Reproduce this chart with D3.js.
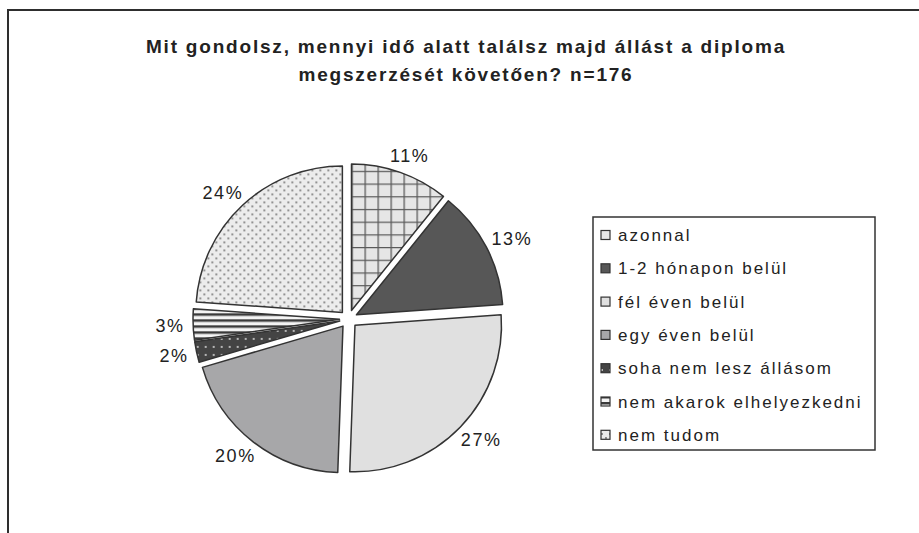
<!DOCTYPE html>
<html>
<head>
<meta charset="utf-8">
<script src="https://cdn.jsdelivr.net/npm/d3@7"></script>
<style>
html,body{margin:0;padding:0;background:#fff;}
svg{display:block;}
text{font-family:"Liberation Sans",Arial,sans-serif;fill:#222;}
</style>
</head>
<body>
<svg id="chart" width="919" height="533"></svg>
<script>
const titleLines = ["Mit gondolsz, mennyi idő alatt találsz majd állást a diploma", "megszerzését követően? n=176"];
const categories = ["azonnal", "1-2 hónapon belül", "fél éven belül", "egy éven belül", "soha nem lesz állásom", "nem akarok elhelyezkedni", "nem tudom"];
const counts = [19, 23, 47, 35, 4, 6, 42];
const percentLabels = ["11%", "13%", "27%", "20%", "2%", "3%", "24%"];
const fills = ["url(#pGrid)", "#575757", "#e0e0e0", "#a7a7a9", "url(#pDarkDots)", "url(#pStripes)", "url(#pDots)"];

const svg = d3.select("#chart");
const defs = svg.append("defs");

const pg = defs.append("pattern").attr("id","pGrid").attr("patternUnits","userSpaceOnUse").attr("width",13).attr("height",12.7);
pg.append("rect").attr("width",13).attr("height",12.7).attr("fill","#e6e6e6");
pg.append("path").attr("d","M0,0.6H13M0.6,0V12.7").attr("stroke","#5a5a5a").attr("stroke-width",1.4);
const pdd = defs.append("pattern").attr("id","pDarkDots").attr("patternUnits","userSpaceOnUse").attr("width",8).attr("height",8);
pdd.append("rect").attr("width",8).attr("height",8).attr("fill","#444");
pdd.append("circle").attr("cx",2).attr("cy",2).attr("r",1).attr("fill","#ddd");
const ps = defs.append("pattern").attr("id","pStripes").attr("patternUnits","userSpaceOnUse").attr("width",8).attr("height",6);
ps.append("rect").attr("width",8).attr("height",6).attr("fill","#f4f4f4");
ps.append("rect").attr("y",0).attr("width",8).attr("height",2.5).attr("fill","#3a3a3a");
const pd = defs.append("pattern").attr("id","pDots").attr("patternUnits","userSpaceOnUse").attr("width",8).attr("height",8);
pd.append("rect").attr("width",8).attr("height",8).attr("fill","#ececec");
pd.append("circle").attr("cx",2).attr("cy",2).attr("r",0.9).attr("fill","#666");
pd.append("circle").attr("cx",6).attr("cy",6).attr("r",0.9).attr("fill","#666");

svg.append("path").attr("d","M8,540V10H930").attr("fill","none").attr("stroke","#2e2e2e").attr("stroke-width",2);

const title = svg.append("text").attr("x",466).attr("text-anchor","middle")
  .style("font-weight","bold").style("font-size","19px").style("letter-spacing","1.8px");
titleLines.forEach((t,i)=>title.append("tspan").attr("x",466).attr("y",53+i*28).text(t));

const cx = 348.5, cy = 319, r = 146.5, explode = 9;
const pie = d3.pie().sort(null).value(d=>d)(counts);
const arc = d3.arc().innerRadius(0).outerRadius(r);
const g = svg.append("g").attr("transform",`translate(${cx},${cy})`);
pie.forEach((p,i)=>{
  const mid = (p.startAngle+p.endAngle)/2;
  g.append("path").attr("d",arc(p))
    .attr("transform",`translate(${Math.sin(mid)*explode},${-Math.cos(mid)*explode})`)
    .attr("fill",fills[i]).attr("stroke","#333").attr("stroke-width",1.5).attr("stroke-linejoin","round");
});
const lr = 164;
pie.forEach((p,i)=>{
  const mid = (p.startAngle+p.endAngle)/2;
  const px = Math.sin(mid)*lr, py = -Math.cos(mid)*lr;
  const t = g.append("text").style("font-size","18px").style("letter-spacing","1.6px")
    .attr("text-anchor","middle").text(percentLabels[i]);
  const w = t.node().getComputedTextLength();
  t.attr("x", px + Math.sin(mid)*w/2).attr("y", py - Math.cos(mid)*9 + 6.5);
});

const lx = 593, ly = 217, lw = 282, lh = 233;
const leg = svg.append("g");
leg.append("rect").attr("x",lx).attr("y",ly).attr("width",lw).attr("height",lh)
  .attr("fill","#fff").attr("stroke","#333").attr("stroke-width",1.5);
const step = 33.3;
categories.forEach((c,i)=>{
  const y = 235 + i*step;
  leg.append("rect").attr("x",601).attr("y",y-4.5).attr("width",9).attr("height",9)
    .attr("fill",fills[i]).attr("stroke","#333").attr("stroke-width",1.2);
  leg.append("text").attr("x",618).attr("y",y+6).style("font-size","17px").style("letter-spacing","2px").text(c);
});
</script>
</body>
</html>
